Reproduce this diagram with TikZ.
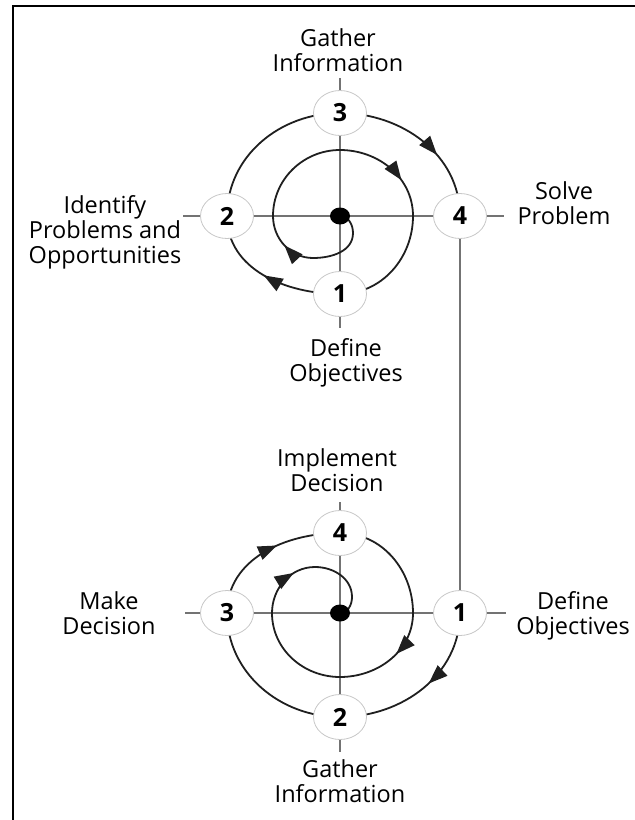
\documentclass[tikz,border=0pt]{standalone}
\usepackage{fontspec}
\setmainfont{Open Sans}
\usetikzlibrary{shapes.geometric,arrows.meta,decorations.markings,backgrounds}
\begin{document}
\begin{tikzpicture}[x=1pt,y=1pt,
  lbl/.style={align=center,font=\fontsize{23.5}{25}\selectfont,inner sep=0pt},
  num/.style={ellipse,draw=black!22,line width=0.8pt,fill=white,minimum width=53pt,minimum height=45pt,inner sep=0pt,font=\fontsize{25}{25}\selectfont\bfseries},
  axisline/.style={draw=black!55,line width=2.2pt},
  spir/.style={draw=black!88,line width=1.8pt,line cap=round},
  arr/.style={postaction={decorate},decoration={markings,mark=at position #1 with {\arrow{Triangle[length=19pt,width=14pt]}}}},
  cdot/.style={ellipse,fill=black,minimum width=20pt,minimum height=17pt,inner sep=0pt}
]
\useasboundingbox (0,0) rectangle (635,-820);
% frame
\draw[line width=2.8pt] (13,-820) -- (13,-6) -- (635,-6);

% ---------- top cycle ----------
\node[num] (t3) at (340,-113) {3};
\node[num] (t2) at (227,-216) {2};
\node[num] (t4) at (460,-216) {4};
\node[num] (t1) at (340,-294) {1};
\node[cdot] (c1) at (340,-216) {};

\coordinate (tL) at (183,-216);
\coordinate (tR) at (504,-216);
\coordinate (tT) at (340,-78);
\coordinate (tB) at (340,-328);

\coordinate (ta) at (353,-233);
\coordinate (tb) at (313,-258);
\coordinate (tc) at (273,-216);
\coordinate (td) at (340,-150);
\coordinate (te) at (413,-216);

% ---------- bottom cycle ----------
\node[num] (b4) at (340,-533) {4};
\node[num] (b3) at (227,-613) {3};
\node[num] (b1) at (460,-613) {1};
\node[num] (b2) at (340,-717) {2};
\node[cdot] (c2) at (340,-613) {};

\coordinate (bL) at (185,-613);
\coordinate (bR) at (506,-613);
\coordinate (bT) at (340,-502);
\coordinate (bB) at (340,-752);

\coordinate (ba) at (413,-613);
\coordinate (bb) at (340,-677);
\coordinate (bc) at (272,-613);
\coordinate (bd) at (315,-567);
\coordinate (be) at (352,-597);

\begin{scope}[on background layer]
\draw[axisline] (tL) -- (tR);
\draw[axisline] (tT) -- (tB);
\draw[axisline] (bL) -- (bR);
\draw[axisline] (bT) -- (bB);

% top inner spiral
\draw[spir] (c1.center) to[out=0,in=90] (ta);
\draw[spir] (ta) to[out=-90,in=0] (tb);
\draw[spir,arr=0.5] (tb) to[out=180,in=-90] (tc);
\draw[spir] (tc) to[out=90,in=180] (td);
\draw[spir,arr=0.65] (td) to[out=0,in=90] (te);
\draw[spir] (te) to[out=-90,in=0] (t1.center);
% top outer spiral
\draw[spir,arr=0.52] (t1.center) to[out=180,in=-90] (t2.center);
\draw[spir] (t2.center) to[out=90,in=180] (t3.center);
\draw[spir,arr=0.62] (t3.center) to[out=0,in=90] (t4.center);

% bottom outer spiral
\draw[spir,arr=0.45] (b1.center) to[out=-90,in=0] (b2.center);
\draw[spir] (b2.center) to[out=180,in=-90] (b3.center);
\draw[spir,arr=0.58] (b3.center) to[out=90,in=180] (b4.center);
% bottom inner spiral
\draw[spir] (b4.center) to[out=0,in=90] (ba);
\draw[spir,arr=0.42] (ba) to[out=-90,in=0] (bb);
\draw[spir] (bb) to[out=180,in=-90] (bc);
\draw[spir,arr=0.68] (bc) to[out=90,in=180] (bd);
\draw[spir] (bd) to[out=0,in=90] (be);
\draw[spir] (be) to[out=-90,in=0] (c2.center);
\end{scope}

% connector between the cycles
\draw[axisline] (t4) -- (b1);

% labels
\node[lbl] (lt3) at (338,-50.5) {Gather\\Information};
\node[lbl] (lt2) at (105,-232.5) {Identify\\Problems and\\Opportunities};
\node[lbl] (lt4) at (564,-203.5) {Solve\\Problem};
\node[lbl] (lt1) at (346,-363) {Define\\Objectives};
\node[lbl] (lb4) at (337,-470.5) {Implement\\Decision};
\node[lbl] (lb3) at (109,-613) {Make\\Decision};
\node[lbl] (lb1) at (573,-616) {Define\\Objectives};
\node[lbl] (lb2) at (340,-781) {Gather\\Information};
\end{tikzpicture}
\end{document}
